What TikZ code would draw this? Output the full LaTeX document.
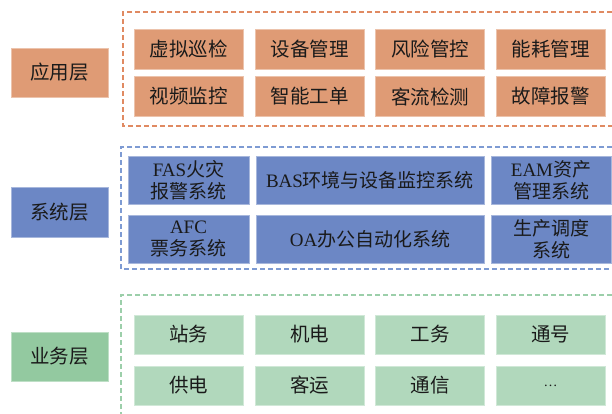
\documentclass[tikz,border=0pt]{standalone}
\usepackage{fontspec}
\setmainfont{Liberation Serif}
\newfontfamily\cjk{Noto Sans CJK SC}
\definecolor{orfill}{HTML}{DF9B75}
\definecolor{ordash}{HTML}{E08A62}
\definecolor{blfill}{HTML}{6C87C5}
\definecolor{bldash}{HTML}{7E9BD3}
\definecolor{grfill}{HTML}{B1D8BC}
\definecolor{grlabel}{HTML}{93C9A0}
\definecolor{grdash}{HTML}{9CCFAA}
\definecolor{txt}{HTML}{1A1A1A}
\tikzset{
  cell/.style={rectangle, inner sep=0pt, text=txt, align=center,
    font=\fontsize{19.5}{22}\selectfont\cjk, line width=0.8pt},
  appcell/.style={cell, fill=orfill, draw=orfill!60!white, minimum width=109pt, minimum height=40pt},
  applabel/.style={cell, fill=orfill, draw=orfill!60!white, minimum width=97pt, minimum height=49pt},
  syscell/.style={cell, font=\fontsize{19}{22}\selectfont\cjk, fill=blfill, draw=blfill!60!white, minimum height=48pt},
  syslabel/.style={cell, fill=blfill, draw=blfill!60!white, minimum width=97pt, minimum height=50pt},
  buscell/.style={cell, fill=grfill, draw=grfill!60!white, minimum width=109pt, minimum height=39pt},
  buslabel/.style={cell, fill=grlabel, draw=grlabel!60!white, minimum width=97pt, minimum height=49pt},
  frame/.style={line width=1.1pt, dash pattern=on 5pt off 3pt},
}
\begin{document}
\begin{tikzpicture}[x=1pt, y=-1pt]
\useasboundingbox (0,0) rectangle (612,413);
\clip (0,0) rectangle (612,413);
% frames
\draw[frame, ordash] (620,12) -- (123,12) -- (123,126) -- (620,126);
\draw[frame, bldash] (620,147) -- (121,147) -- (121,269) -- (620,269);
\draw[frame, grdash] (620,295) -- (121,295) -- (121,420);
% application layer
\node[applabel] (appL) at (59.5,72.5) {应用层};
\node[appcell] (a1) at (188.5,49) {虚拟巡检};
\node[appcell] (a2) at (309.5,49) {设备管理};
\node[appcell] (a3) at (430,49) {风险管控};
\node[appcell] (a4) at (550.5,49) {能耗管理};
\node[appcell] (a5) at (188.5,96.5) {视频监控};
\node[appcell] (a6) at (309.5,96.5) {智能工单};
\node[appcell] (a7) at (430,96.5) {客流检测};
\node[appcell] (a8) at (550.5,96.5) {故障报警};
% system layer
\node[syslabel] (sysL) at (59.5,212) {系统层};
\node[syscell, minimum width=121pt] (s1) at (188.5,180.5) {{\rmfamily FAS}火灾\\报警系统};
\node[syscell, minimum width=228pt] (s2) at (370,180.5) {{\rmfamily BAS}环境与设备监控系统};
\node[syscell, minimum width=120pt] (s3) at (551,180.5) {{\rmfamily EAM}资产\\管理系统};
\node[syscell, minimum width=121pt] (s4) at (188.5,239) {{\rmfamily AFC}\\票务系统};
\node[syscell, minimum width=228pt] (s5) at (370,239) {{\rmfamily OA}办公自动化系统};
\node[syscell, minimum width=120pt] (s6) at (551,239) {生产调度\\系统};
% business layer
\node[buslabel] (busL) at (59.5,356.5) {业务层};
\node[buscell] (b1) at (188.5,334.5) {站务};
\node[buscell] (b2) at (309.5,334.5) {机电};
\node[buscell] (b3) at (430,334.5) {工务};
\node[buscell] (b4) at (550.5,334.5) {通号};
\node[buscell] (b5) at (188.5,385.5) {供电};
\node[buscell] (b6) at (309.5,385.5) {客运};
\node[buscell] (b7) at (430,385.5) {通信};
\node[buscell] (b8) at (550.5,385.5) {{\rmfamily\fontsize{14}{16}\selectfont …}};
\end{tikzpicture}
\end{document}
